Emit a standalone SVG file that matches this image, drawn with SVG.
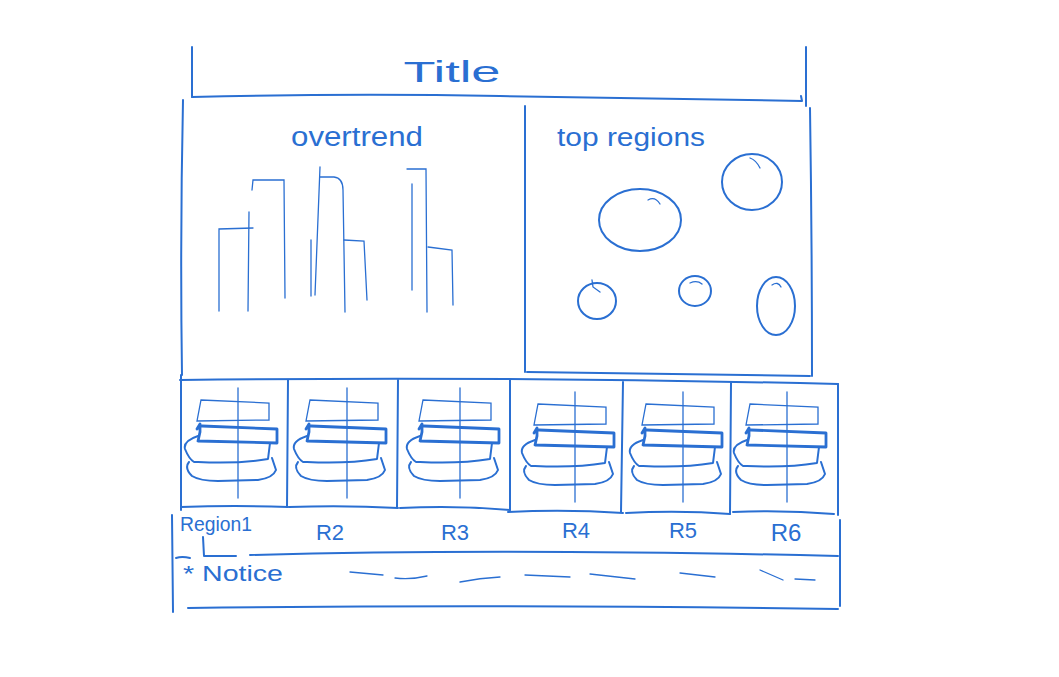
<svg xmlns="http://www.w3.org/2000/svg" width="1059" height="677" viewBox="0 0 1059 677">
<style>
.ln{fill:none;stroke:#2a6fd2;stroke-width:2;stroke-linecap:round;stroke-linejoin:round}
.th{fill:none;stroke:#2a6fd2;stroke-width:1.3;stroke-linecap:round}
.bk{fill:none;stroke:#2a6fd2;stroke-width:2.8;stroke-linecap:round;stroke-linejoin:round}
.tx{fill:#2a6fd2;font-family:"Liberation Sans","DejaVu Sans",sans-serif}
</style>
<defs>
<g id="cardContent">
<path class="th" d="M0,-48 L0,62"/>
<path class="th" d="M-37,-36 L31,-33 L31,-16 L-41,-15 Z"/>
<path class="bk" d="M-41,-7 L-38,-12 L-38,-4 L-40,5 L39,7 L39,-7 L-36,-10"/>
<path class="ln" d="M-40,0 Q-55,5 -53,13 Q-49,23 -44,26 L-40,26 Q0,28 30,23 L32,7"/>
<path class="ln" d="M-49,26 Q-54,32 -46,40 Q-38,45 -20,45 L20,44 Q35,42 38,34 L34,22"/>
</g>
</defs>
<rect width="1059" height="677" fill="#ffffff"/>

<g id="title">
<path class="ln" d="M192,47 L192,97"/>
<path class="ln" d="M192,97 Q350,93 500,96 Q650,98 802,101 L801,96"/>
<path class="ln" d="M806,47 L806,106"/>
<text class="tx" x="452" y="82" font-size="29" text-anchor="middle" textLength="97" lengthAdjust="spacingAndGlyphs">Title</text>
</g>

<g id="overtrend">
<path class="ln" d="M183,100 Q180,240 182,375"/>
<path class="ln" d="M525,106 L525,372"/>
<text class="tx" x="357" y="146" font-size="27" text-anchor="middle" textLength="132" lengthAdjust="spacingAndGlyphs">overtrend</text>
<path class="th" d="M219,311 L219,229 L253,228"/>
<path class="th" d="M249,212 L248,311"/>
<path class="th" d="M252,190 L253,180 L284,180 L285,298"/>
<path class="th" d="M311,240 L311,296"/>
<path class="th" d="M320,167 L315,295"/>
<path class="th" d="M320,177 L334,177 Q343,178 343,190 L345,312"/>
<path class="th" d="M344,240 L364,241 L367,300"/>
<path class="th" d="M412,184 L412,290"/>
<path class="th" d="M407,169 L426,169 L427,312"/>
<path class="th" d="M428,247 L452,250 L453,305"/>
</g>

<g id="top-regions">
<path class="ln" d="M810,108 Q812,240 812,376"/>
<path class="ln" d="M527,372 Q680,374 810,376"/>
<text class="tx" x="557" y="146" font-size="25" textLength="148" lengthAdjust="spacingAndGlyphs">top regions</text>
<ellipse class="ln" cx="640" cy="220" rx="41" ry="31"/>
<path class="th" d="M648,200 Q655,196 660,204"/>
<ellipse class="ln" cx="752" cy="182" rx="30" ry="28"/>
<path class="th" d="M750,158 Q756,160 760,168"/>
<ellipse class="ln" cx="597" cy="301" rx="19" ry="18"/>
<path class="th" d="M592,280 L593,287 L600,292"/>
<ellipse class="ln" cx="695" cy="291" rx="16" ry="15"/>
<path class="th" d="M690,283 Q697,280 702,284"/>
<ellipse class="ln" cx="776" cy="306" rx="19" ry="29"/>
<path class="th" d="M772,285 Q778,281 781,287"/>
</g>

<g id="region-row">
<path class="ln" d="M180,380 Q500,376 838,384"/>
<path class="ln" d="M181,375 L181,510"/>
<path class="ln" d="M838,384 L838,515"/>
</g>

<g id="card-region1">
<path class="ln" d="M288,380 L287,507"/>
<path class="ln" d="M181,507 Q235,505 288,507"/>
<use href="#cardContent" x="238" y="436"/>
<text class="tx" x="180" y="531" font-size="20" textLength="72" lengthAdjust="spacingAndGlyphs">Region1</text>
</g>
<g id="card-r2">
<path class="ln" d="M398,380 L397,507"/>
<path class="ln" d="M289,507 Q345,505 398,508"/>
<use href="#cardContent" x="347" y="436"/>
<text class="tx" x="330" y="540" font-size="22" text-anchor="middle">R2</text>
</g>
<g id="card-r3">
<path class="ln" d="M510,380 L510,510"/>
<path class="ln" d="M400,508 Q455,505 510,510"/>
<use href="#cardContent" x="460" y="436"/>
<text class="tx" x="455" y="540" font-size="22" text-anchor="middle">R3</text>
</g>
<g id="card-r4">
<path class="ln" d="M623,382 L621,512"/>
<path class="ln" d="M508,512 Q565,509 623,513"/>
<use href="#cardContent" x="575" y="440"/>
<text class="tx" x="576" y="538" font-size="22" text-anchor="middle">R4</text>
</g>
<g id="card-r5">
<path class="ln" d="M731,383 L730,514"/>
<path class="ln" d="M626,513 Q680,510 730,514"/>
<use href="#cardContent" x="683" y="440"/>
<text class="tx" x="683" y="538" font-size="22" text-anchor="middle">R5</text>
</g>
<g id="card-r6">
<path class="ln" d="M733,512 Q785,510 834,514"/>
<use href="#cardContent" x="787" y="440"/>
<text class="tx" x="786" y="541" font-size="24" text-anchor="middle">R6</text>
</g>

<g id="notice">
<path class="ln" d="M172,515 L173,612"/>
<path class="ln" d="M840,520 L840,606"/>
<path class="ln" d="M176,558 Q182,556 190,558"/>
<path class="ln" d="M250,555 Q500,548 838,556"/>
<path class="ln" d="M188,608 Q500,604 838,609"/>
<text class="tx" x="183" y="581" font-size="22" textLength="100" lengthAdjust="spacingAndGlyphs">* Notice</text>
<path class="th" d="M350,572 L383,575 M395,578 Q410,580 427,576 M460,582 Q480,578 500,577"/>
<path class="th" d="M525,575 L570,577 M590,574 L635,579 M680,573 L715,577 M760,570 L783,580 M795,579 L815,580"/>
</g>

<g id="connectors">
<path class="ln" d="M203,537 L204,556 L236,556"/>
</g>
</svg>
